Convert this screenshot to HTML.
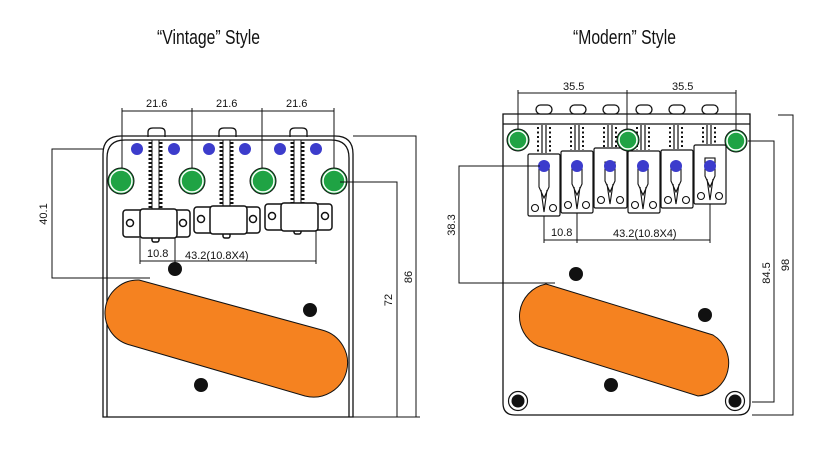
<!DOCTYPE html>
<html><head><meta charset="utf-8"><style>
html,body{margin:0;padding:0;background:#fff;}
svg{display:block;}
text{font-family:"Liberation Sans",sans-serif;fill:#111;}
</style></head><body>
<svg width="838" height="450" viewBox="0 0 838 450" xmlns="http://www.w3.org/2000/svg">
<rect width="838" height="450" fill="#fff"/>
<text x="157" y="44" font-size="20" textLength="103" lengthAdjust="spacingAndGlyphs">“Vintage” Style</text>
<text x="573" y="44" font-size="20" textLength="103" lengthAdjust="spacingAndGlyphs">“Modern” Style</text>

<!-- ========== VINTAGE ========== -->
<g fill="none" stroke="#111" stroke-width="1.3">
  <path d="M103,417 V154 Q103,136 121,136 H335 Q353,136 353,154 V417 Z" fill="#fff"/>
  <path d="M107,417 V158 Q107,140 125,140 H331 Q349,140 349,158 V417"/>
  <!-- tabs -->
  <path d="M148,137 V132 Q148,128 153,128 H160 Q165,128 165,132 V137"/>
  <path d="M219,137 V132 Q219,128 224,128 H231 Q236,128 236,132 V137"/>
  <path d="M290,137 V132 Q290,128 295,128 H302 Q307,128 307,132 V137"/>
</g>
<!-- threaded bars -->
<g stroke="#111">
  <rect x="152" y="140" width="7" height="75" fill="#fff" stroke-width="1"/>
  <rect x="223" y="140" width="7" height="72" fill="#fff" stroke-width="1"/>
  <rect x="294" y="140" width="7" height="68" fill="#fff" stroke-width="1"/>
  <g stroke-width="3" stroke-dasharray="2 2">
    <line x1="150" y1="142" x2="150" y2="212"/><line x1="161" y1="142" x2="161" y2="212"/>
    <line x1="221" y1="142" x2="221" y2="208"/><line x1="232" y1="142" x2="232" y2="208"/>
    <line x1="292" y1="142" x2="292" y2="204"/><line x1="303" y1="142" x2="303" y2="204"/>
  </g>
</g>
<!-- saddles -->
<g fill="#fff" stroke="#111" stroke-width="1.5">
  <rect x="152" y="232" width="7" height="10" rx="2"/>
  <rect x="223" y="228" width="7" height="10" rx="2"/>
  <rect x="294" y="224" width="7" height="10" rx="2"/>
  <rect x="123" y="210" width="67" height="27" rx="3"/>
  <rect x="140" y="209" width="37" height="29" rx="3"/>
  <circle cx="130" cy="223" r="3.5"/><circle cx="183" cy="223" r="3.5"/>
  <rect x="194" y="207" width="66" height="26" rx="3"/>
  <rect x="210" y="206" width="37" height="28" rx="3"/>
  <circle cx="201" cy="219" r="3.5"/><circle cx="253" cy="219" r="3.5"/>
  <rect x="265" y="204" width="67" height="26" rx="3"/>
  <rect x="281" y="203" width="37" height="28" rx="3"/>
  <circle cx="272" cy="216" r="3.5"/><circle cx="325" cy="216" r="3.5"/>
</g>
<!-- blue dots -->
<g fill="#3c3ccc">
  <circle cx="137" cy="149" r="6"/><circle cx="174" cy="149" r="6"/>
  <circle cx="209" cy="149" r="6"/><circle cx="245" cy="149" r="6"/>
  <circle cx="280" cy="149" r="6"/><circle cx="316" cy="149" r="6"/>
</g>
<!-- green -->
<g fill="#1fa344" stroke="#111" stroke-width="1">
  <circle cx="121" cy="181" r="13"/><circle cx="192" cy="181" r="13"/>
  <circle cx="263" cy="181" r="13"/><circle cx="334" cy="181" r="13"/>
</g>
<g fill="none" stroke="#fff" stroke-width="1.5">
  <circle cx="121" cy="181" r="11"/><circle cx="192" cy="181" r="11"/>
  <circle cx="263" cy="181" r="11"/><circle cx="334" cy="181" r="11"/>
</g>
<!-- dims vintage -->
<g stroke="#111" stroke-width="1" fill="none">
  <line x1="122" y1="111" x2="334" y2="111"/>
  <line x1="122" y1="108" x2="122" y2="168"/>
  <line x1="192" y1="108" x2="192" y2="168"/>
  <line x1="262" y1="108" x2="262" y2="168"/>
  <line x1="334" y1="108" x2="334" y2="168"/>
  <line x1="140" y1="238" x2="140" y2="264"/>
  <line x1="175" y1="238" x2="175" y2="264"/>
  <line x1="316" y1="230" x2="316" y2="264"/>
  <line x1="140" y1="261" x2="316" y2="261"/>
  <polyline points="103,149 52,149 52,278 150,278"/>
  <polyline points="340,182 397,182 397,417"/>
  <polyline points="353,136 416,136 416,417"/>
  <line x1="353" y1="417" x2="420" y2="417"/>
</g>
<g font-size="11">
  <text x="146" y="107">21.6</text><text x="216" y="107">21.6</text><text x="286" y="107">21.6</text>
  <text x="147" y="257">10.8</text><text x="185" y="259">43.2(10.8X4)</text>
  <text transform="translate(47,214) rotate(-90)" text-anchor="middle">40.1</text>
  <text transform="translate(392,300) rotate(-90)" text-anchor="middle">72</text>
  <text transform="translate(412,277) rotate(-90)" text-anchor="middle">86</text>
</g>
<g fill="#111">
  <circle cx="175" cy="269" r="7"/><circle cx="310" cy="310" r="7"/><circle cx="201" cy="385" r="7"/>
</g>
<path d="M139,280 L322,330 A34,34 0 0 1 305,396 L130,345 A33,33 0 0 1 139,280 Z" fill="#f58220" stroke="#111" stroke-width="1"/>

<!-- ========== MODERN ========== -->
<g fill="none" stroke="#111" stroke-width="1.3">
  <path d="M503,114 H750 V403 Q750,415 738,415 H515 Q503,415 503,403 Z" fill="#fff"/>
  <line x1="503" y1="124" x2="750" y2="124"/>
</g>
<g fill="#fff" stroke="#111" stroke-width="1.3">
  <rect x="536" y="105" width="16" height="9" rx="4.5"/>
  <rect x="570" y="105" width="16" height="9" rx="4.5"/>
  <rect x="603" y="105" width="16" height="9" rx="4.5"/>
  <rect x="636" y="105" width="16" height="9" rx="4.5"/>
  <rect x="669" y="105" width="16" height="9" rx="4.5"/>
  <rect x="702" y="105" width="16" height="9" rx="4.5"/>
</g>
<g stroke="#111">
  <g stroke-width="1.2">
    <line x1="542" y1="125" x2="542" y2="153"/><line x1="546" y1="125" x2="546" y2="153"/>
    <line x1="575" y1="125" x2="575" y2="150"/><line x1="579" y1="125" x2="579" y2="150"/>
    <line x1="608" y1="125" x2="608" y2="147"/><line x1="612" y1="125" x2="612" y2="147"/>
    <line x1="641" y1="125" x2="641" y2="150"/><line x1="645" y1="125" x2="645" y2="150"/>
    <line x1="674" y1="125" x2="674" y2="149"/><line x1="678" y1="125" x2="678" y2="149"/>
    <line x1="707" y1="125" x2="707" y2="144"/><line x1="711" y1="125" x2="711" y2="144"/>
  </g>
  <g stroke-width="2" stroke-dasharray="2 2.5">
    <line x1="538" y1="127" x2="538" y2="153"/><line x1="550" y1="127" x2="550" y2="153"/>
    <line x1="571" y1="127" x2="571" y2="150"/><line x1="583" y1="127" x2="583" y2="150"/>
    <line x1="604" y1="127" x2="604" y2="147"/><line x1="616" y1="127" x2="616" y2="147"/>
    <line x1="637" y1="127" x2="637" y2="150"/><line x1="649" y1="127" x2="649" y2="150"/>
    <line x1="670" y1="127" x2="670" y2="149"/><line x1="682" y1="127" x2="682" y2="149"/>
    <line x1="703" y1="127" x2="703" y2="144"/><line x1="715" y1="127" x2="715" y2="144"/>
  </g>
</g>
<!-- modern saddles -->
<g fill="#fff" stroke="#111" stroke-width="1.2">
  <rect x="528" y="154" width="32" height="62" rx="1.5"/>
  <rect x="561" y="151" width="32" height="62" rx="1.5"/>
  <rect x="594" y="148" width="33" height="60" rx="1.5"/>
  <rect x="628" y="151" width="32" height="62" rx="1.5"/>
  <rect x="661" y="150" width="32" height="58" rx="1.5"/>
  <rect x="694" y="145" width="32" height="59" rx="1.5"/>
</g>
<g fill="#fff" stroke="#111" stroke-width="1.1">
  <path d="M539,168 V187 L544,198 L549,187 V168 Z M541,190 L544,212 L547,190"/>
  <path d="M572,165 V184 L577,195 L582,184 V165 Z M574,187 L577,209 L580,187"/>
  <path d="M605,162 V181 L610,192 L615,181 V162 Z M607,184 L610,204 L613,184"/>
  <path d="M638,165 V184 L643,195 L648,184 V165 Z M640,187 L643,209 L646,187"/>
  <path d="M671,164 V181 L676,192 L681,181 V164 Z M673,184 L676,204 L679,184"/>
  <path d="M705,159 V176 L710,187 L715,176 V159 Z M707,179 L710,200 L713,179"/>
  <rect x="705" y="158" width="10" height="6"/>
  <circle cx="535" cy="208" r="3.5"/><circle cx="553" cy="208" r="3.5"/>
  <circle cx="568" cy="205" r="3.5"/><circle cx="586" cy="205" r="3.5"/>
  <circle cx="601" cy="200" r="3.5"/><circle cx="620" cy="200" r="3.5"/>
  <circle cx="635" cy="205" r="3.5"/><circle cx="653" cy="205" r="3.5"/>
  <circle cx="668" cy="200" r="3.5"/><circle cx="686" cy="200" r="3.5"/>
  <circle cx="701" cy="196" r="3.5"/><circle cx="719" cy="196" r="3.5"/>
</g>
<g fill="#3c3ccc">
  <circle cx="544" cy="166" r="6"/><circle cx="577" cy="166" r="6"/><circle cx="610" cy="166" r="6"/>
  <circle cx="643" cy="166" r="6"/><circle cx="676" cy="166" r="6"/><circle cx="710" cy="166" r="6"/>
</g>
<g fill="#1fa344" stroke="#111" stroke-width="1">
  <circle cx="518" cy="140" r="11"/><circle cx="628" cy="140" r="11"/><circle cx="736" cy="141" r="11"/>
</g>
<g fill="none" stroke="#fff" stroke-width="1.5">
  <circle cx="518" cy="140" r="9"/><circle cx="628" cy="140" r="9"/><circle cx="736" cy="141" r="9"/>
</g>
<g stroke="#111" stroke-width="1" fill="none">
  <line x1="518" y1="93" x2="736" y2="93"/>
  <line x1="518" y1="90" x2="518" y2="130"/>
  <line x1="627" y1="90" x2="627" y2="130"/>
  <line x1="736" y1="90" x2="736" y2="130"/>
  <line x1="544" y1="216" x2="544" y2="243"/>
  <line x1="577" y1="213" x2="577" y2="243"/>
  <line x1="710" y1="204" x2="710" y2="243"/>
  <line x1="544" y1="240" x2="710" y2="240"/>
  <polyline points="540,166 459,166 459,283 555,283"/>
  <polyline points="748,141 774,141 774,402 752,402"/>
  <polyline points="778,115 793,115 793,415 752,415"/>
</g>
<g font-size="11">
  <text x="563" y="90">35.5</text><text x="672" y="90">35.5</text>
  <text x="551" y="236">10.8</text><text x="613" y="237">43.2(10.8X4)</text>
  <text transform="translate(455,225) rotate(-90)" text-anchor="middle">38.3</text>
  <text transform="translate(770,273) rotate(-90)" text-anchor="middle">84.5</text>
  <text transform="translate(789,265) rotate(-90)" text-anchor="middle">98</text>
</g>
<g fill="#111">
  <circle cx="576" cy="274" r="7"/><circle cx="705" cy="315" r="7"/><circle cx="611" cy="385" r="7"/>
</g>
<g fill="#fff" stroke="#111" stroke-width="1.2">
  <circle cx="518" cy="401" r="9.5"/><circle cx="735" cy="401" r="9.5"/>
</g>
<g fill="#111"><circle cx="518" cy="401" r="6.5"/><circle cx="735" cy="401" r="6.5"/></g>
<path d="M546,284 L713,335 A33,33 0 0 1 698,396 L538,346 A33,33 0 0 1 546,284 Z" fill="#f58220" stroke="#111" stroke-width="1"/>
</svg>
</body></html>
